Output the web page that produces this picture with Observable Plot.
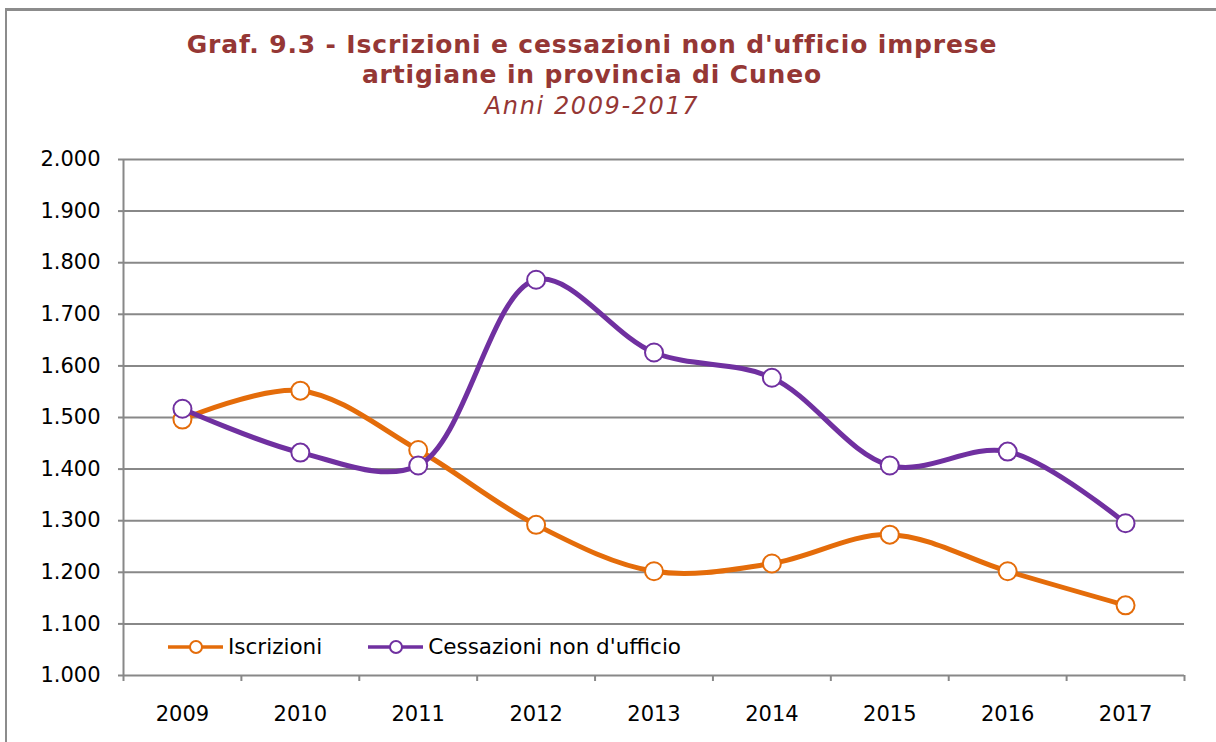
<!DOCTYPE html>
<html>
<head>
<meta charset="utf-8">
<script src="https://cdn.jsdelivr.net/npm/d3@7"></script>
<script src="https://cdn.jsdelivr.net/npm/@observablehq/plot@0.6"></script>
<style>
  html, body { margin: 0; padding: 0; background: #fff; }
  body { width: 1216px; height: 742px; overflow: hidden; position: relative; font-family: "DejaVu Sans", Verdana, sans-serif; }
  #frame { position: absolute; left: 5px; top: 8px; width: 1300px; height: 800px; border-left: 2px solid #8c8c8c; border-top: 3px solid #8c8c8c; box-sizing: border-box; }
  #title { position: relative; height: 140px; text-align: center; color: #953735; }
  #title .t { position: absolute; left: 0; width: 1184px; font-weight: bold; font-size: 25px; letter-spacing: 0.85px; line-height: 30px; }
  #title .s { position: absolute; left: 0; width: 1184px; font-style: italic; font-size: 24px; letter-spacing: 1.6px; line-height: 30px; }
  #legend { position: absolute; top: 634px; left: 168px; font-size: 21.5px; color: #000; display: flex; align-items: center; }
  #legend .item { display: flex; align-items: center; margin-right: 46px; }
  #legend svg { margin-right: 4px; }
</style>
</head>
<body>
<div id="frame"></div>
<div id="title">
  <div class="t" style="top:30px">Graf. 9.3 - Iscrizioni e cessazioni non d'ufficio imprese</div>
  <div class="t" style="top:60px">artigiane in provincia di Cuneo</div>
  <div class="s" style="top:91px">Anni 2009-2017</div>
</div>
<div id="chart"></div>
<div id="legend"></div>
<script>
const years = [2009, 2010, 2011, 2012, 2013, 2014, 2015, 2016, 2017];
const iscrizioni = [1496, 1552, 1437, 1292, 1202, 1217, 1273, 1202, 1136];
const cessazioni = [1517, 1432, 1407, 1767, 1626, 1577, 1407, 1434, 1295];
const seriesNames = ["Iscrizioni", "Cessazioni non d'ufficio"];
const seriesColors = ["#E46C0A", "#7030A0"];
const yTicks = [1000, 1100, 1200, 1300, 1400, 1500, 1600, 1700, 1800, 1900, 2000];

const itFmt = d3.formatLocale({decimal: ",", thousands: ".", grouping: [3], currency: ["", "€"]}).format(",d");
const boundaries = years.map(y => y - 0.5).concat([years[years.length - 1] + 0.5]);

const rowsI = years.map((y, i) => ({year: y, value: iscrizioni[i], series: seriesNames[0]}));
const rowsC = years.map((y, i) => ({year: y, value: cessazioni[i], series: seriesNames[1]}));

const grid = "#888888";
const chart = Plot.plot({
  width: 1216,
  height: 602,
  marginTop: 19,
  marginBottom: 67,
  marginLeft: 123,
  marginRight: 32,
  style: {fontFamily: "DejaVu Sans, Verdana, sans-serif", fontSize: "21px", color: "#000", background: "transparent", overflow: "visible"},
  x: {type: "linear", domain: [boundaries[0], boundaries[boundaries.length - 1]]},
  y: {domain: [1000, 2000]},
  color: {domain: seriesNames, range: seriesColors},
  marks: [
    Plot.ruleY(yTicks, {stroke: grid, strokeWidth: 2}),
    Plot.ruleX([boundaries[0]], {stroke: grid, strokeWidth: 2}),
    Plot.axisY({ticks: yTicks, tickSize: 5, tickPadding: 18, tickFormat: itFmt, stroke: grid, strokeWidth: 2, label: null}),
    Plot.axisX({ticks: boundaries, tickSize: 6, tickFormat: () => "", stroke: grid, strokeWidth: 2, label: null}),
    Plot.axisX({ticks: years, tickSize: 0, tickPadding: 31, tickFormat: d => String(d), label: null}),
    Plot.line(rowsI, {x: "year", y: "value", stroke: "series", curve: "catmull-rom", strokeWidth: 5}),
    Plot.dot(rowsI, {x: "year", y: "value", stroke: "series", fill: "white", r: 9, strokeWidth: 2}),
    Plot.line(rowsC, {x: "year", y: "value", stroke: "series", curve: "catmull-rom", strokeWidth: 5}),
    Plot.dot(rowsC, {x: "year", y: "value", stroke: "series", fill: "white", r: 9, strokeWidth: 2})
  ]
});
document.getElementById("chart").appendChild(chart);

const legend = document.getElementById("legend");
seriesNames.forEach((name, i) => {
  const item = document.createElement("div");
  item.className = "item";
  item.innerHTML = `<svg width="56" height="16"><line x1="0" y1="8" x2="55" y2="8" stroke="${seriesColors[i]}" stroke-width="3.5"/><circle cx="28" cy="8" r="6" fill="white" stroke="${seriesColors[i]}" stroke-width="2"/></svg><span>${name}</span>`;
  legend.appendChild(item);
});
</script>
</body>
</html>
